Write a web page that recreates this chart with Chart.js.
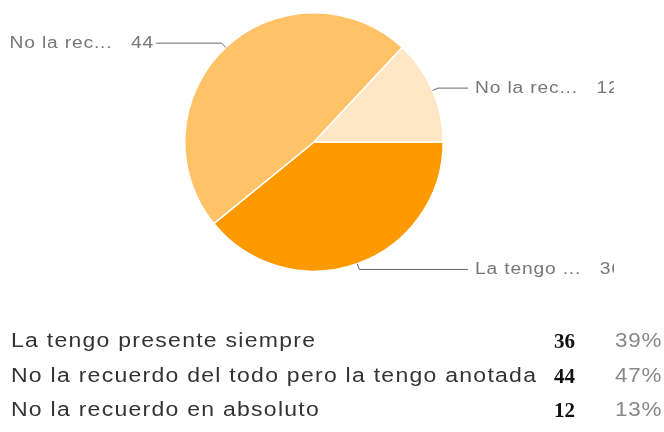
<!DOCTYPE html>
<html>
<head>
<meta charset="utf-8">
<script src="https://cdn.jsdelivr.net/npm/chart.js@4/dist/chart.umd.min.js"></script>
<style>
  html, body { margin: 0; padding: 0; background: #fff; }
  #wrap { position: relative; width: 664px; height: 432px; overflow: hidden; }
  #pie { position: absolute; left: 0; top: 0; }
  .row { position: absolute; left: 0; width: 664px; height: 30px; font-family: "Liberation Sans", Arial, sans-serif; }
  .row .lbl { position: absolute; left: 11px; top: -1px; font-size: 20px; color: #333; letter-spacing: 1.1px; transform: scaleX(1.15); transform-origin: left center; white-space: nowrap; }
  .row .num { position: absolute; right: 89px; top: -1px; font-family: "Liberation Serif", serif; font-weight: bold; font-size: 21px; color: #111; }
  .row .pct { position: absolute; right: 2px; top: -1px; font-size: 20px; color: #888; letter-spacing: 0.8px; transform: scaleX(1.12); transform-origin: right center; }
</style>
</head>
<body>
<div id="wrap">
  <canvas id="pie" width="664" height="432"></canvas>
  <div id="table"></div>
</div>
<script>
// data
const answers = ['La tengo presente siempre', 'No la recuerdo del todo pero la tengo anotada', 'No la recuerdo en absoluto'];
const counts = [36, 44, 12];
const percents = ['39%', '47%', '13%'];
const sliceColors = ['#ff9900', '#ffc266', '#ffe7c6'];

// table under the pie
const table = document.getElementById('table');
const rowTops = [330, 365, 399];
answers.forEach((a, i) => {
    const row = document.createElement('div');
    row.className = 'row';
    row.style.top = rowTops[i] + 'px';
    row.innerHTML = `<span class="lbl">${a}</span><span class="num">${counts[i]}</span><span class="pct">${percents[i]}</span>`;
    table.appendChild(row);
});

// leader lines + short labels, google style
const leaderLabels = {
    id: 'leaderLabels',
    afterDatasetsDraw(chart) {
        const ctx = chart.ctx;
        const arcs = chart.getDatasetMeta(0).data;
        ctx.save();
        ctx.beginPath();
        ctx.rect(0, 0, 614, 432);
        ctx.clip();
        ctx.strokeStyle = '#666';
        ctx.lineWidth = 1;
        ctx.fillStyle = '#777';
        ctx.font = '16px "Liberation Sans", Arial, sans-serif';
        ctx.letterSpacing = '0.7px';
        ctx.textBaseline = 'middle';
        arcs.forEach((arc, i) => {
            const mid = (arc.startAngle + arc.endAngle) / 2;
            const cx = Math.cos(mid), cy = Math.sin(mid);
            const ex = arc.x + cx * arc.outerRadius, ey = arc.y + cy * arc.outerRadius;
            const bx = ex + cx * 6, by = ey + cy * 6;
            const right = cx > 0;
            const endX = right ? 468 : 156;
            ctx.beginPath();
            ctx.moveTo(ex, ey);
            ctx.lineTo(bx, by);
            ctx.lineTo(endX, by);
            ctx.stroke();
            const txt = answers[i].slice(0, 9) + '...   ' + counts[i];
            ctx.save();
            ctx.translate(right ? 475 : 154, by);
            ctx.scale(1.2, 1);
            ctx.textAlign = right ? 'left' : 'right';
            ctx.fillText(txt, 0, 0);
            ctx.restore();
        });
        ctx.restore();
    }
};

new Chart(document.getElementById('pie'), {
    type: 'pie',
    data: {
        labels: answers,
        datasets: [{
            data: counts,
            backgroundColor: sliceColors,
            borderColor: '#ffffff',
            borderWidth: 1.5
        }]
    },
    options: {
        responsive: false,
        animation: false,
        rotation: 90,
        layout: { padding: { left: 184, right: 220, top: 12, bottom: 160 } },
        plugins: {
            legend: { display: false },
            tooltip: { enabled: false }
        }
    },
    plugins: [leaderLabels]
});
</script>
</body>
</html>
